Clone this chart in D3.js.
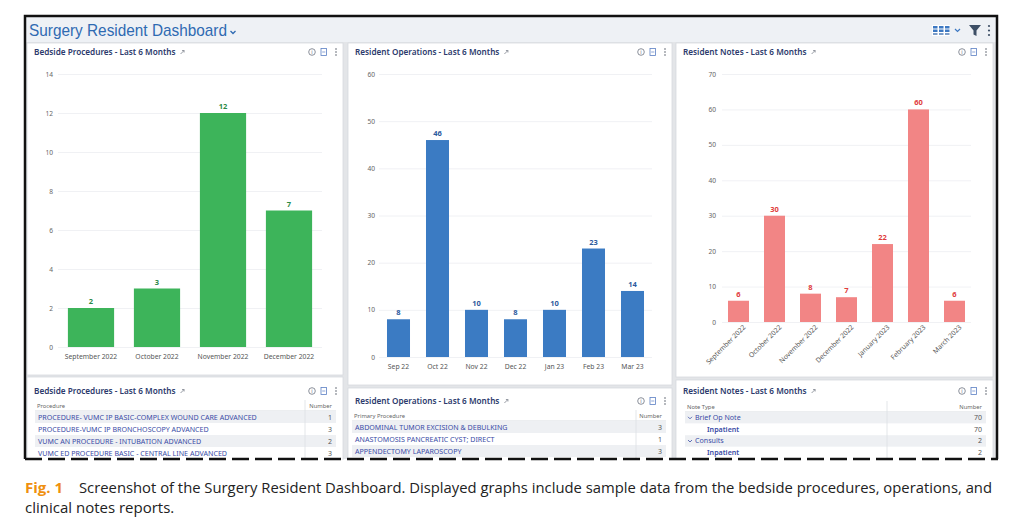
<!DOCTYPE html>
<html>
<head>
<meta charset="utf-8">
<script src="https://cdn.jsdelivr.net/npm/d3@7"></script>
<style>
body { margin: 0; background: #fff; }
svg { display: block; font-family: 'Noto Sans', 'DejaVu Sans', sans-serif; }
</style>
</head>
<body>
<svg id="dash" width="1023" height="523"></svg>
<script>
'use strict';

// chart data
var bedsideMonths = ['September 2022', 'October 2022', 'November 2022', 'December 2022'];
var bedsideCounts = [2, 3, 12, 7];
var bedsideTicks = [0, 2, 4, 6, 8, 10, 12, 14];

var opsMonths = ['Sep 22', 'Oct 22', 'Nov 22', 'Dec 22', 'Jan 23', 'Feb 23', 'Mar 23'];
var opsCounts = [8, 46, 10, 8, 10, 23, 14];
var opsTicks = [0, 10, 20, 30, 40, 50, 60];

var notesMonths = ['September 2022', 'October 2022', 'November 2022', 'December 2022',
  'January 2023', 'February 2023', 'March 2023'];
var notesCounts = [6, 30, 8, 7, 22, 60, 6];
var notesTicks = [0, 10, 20, 30, 40, 50, 60, 70];

// table data
var procedureNames = [
  'PROCEDURE- VUMC IP BASIC-COMPLEX WOUND CARE ADVANCED',
  'PROCEDURE-VUMC IP BRONCHOSCOPY ADVANCED',
  'VUMC AN PROCEDURE - INTUBATION  ADVANCED',
  'VUMC ED PROCEDURE BASIC - CENTRAL LINE ADVANCED'
];
var procedureNumbers = [1, 3, 2, 3];

var operationNames = [
  'ABDOMINAL TUMOR EXCISION & DEBULKING',
  'ANASTOMOSIS PANCREATIC CYST; DIRECT',
  'APPENDECTOMY LAPAROSCOPY'
];
var operationNumbers = [3, 1, 3];

var noteTypes = ['Brief Op Note', 'Inpatient', 'Consults', 'Inpatient'];
var noteLevels = [0, 1, 0, 1];
var noteNumbers = [70, 70, 2, 2];

var captionLabel = 'Fig. 1';
var captionLines = [
  'Screenshot of the Surgery Resident Dashboard. Displayed graphs include sample data from the bedside procedures, operations, and',
  'clinical notes reports.'
];

var svg = d3.select('#dash');
var titleColor = '#2c3a6c';
var linkColor = '#3a4ca6';

// frame background (grey gutters between tiles)
svg.append('rect').attr('x', 25).attr('y', 16).attr('width', 972).attr('height', 443)
  .attr('fill', '#e3e5e8');
svg.append('rect').attr('x', 26).attr('y', 17).attr('width', 970).attr('height', 25)
  .attr('fill', '#eef1f5');

svg.append('text').attr('x', 29).attr('y', 36)
  .attr('font-size', 17).attr('fill', '#2e6ab2')
  .attr('font-family', 'Liberation Sans, Arial, sans-serif')
  .attr('textLength', 198).attr('lengthAdjust', 'spacingAndGlyphs')
  .text('Surgery Resident Dashboard');
svg.append('path').attr('d', 'M230.5,31 l2.5,2.5 l2.5,-2.5')
  .attr('fill', 'none').attr('stroke', '#2e6ab2').attr('stroke-width', 1.3);

// header tools on the right
var tools = svg.append('g');
tools.append('rect').attr('x', 932).attr('y', 25).attr('width', 18).attr('height', 11).attr('fill', '#fff');
[0, 1, 2].forEach(function(i) {
  tools.append('rect').attr('x', 933 + i * 6).attr('y', 26).attr('width', 4.5).attr('height', 2.5).attr('fill', '#3c78c2');
  tools.append('rect').attr('x', 933 + i * 6).attr('y', 29.5).attr('width', 4.5).attr('height', 2.5).attr('fill', '#3c78c2');
  tools.append('rect').attr('x', 933 + i * 6).attr('y', 33).attr('width', 4.5).attr('height', 2).attr('fill', '#7a9cc8');
});
tools.append('path').attr('d', 'M955,29 l2.5,2.5 l2.5,-2.5')
  .attr('fill', 'none').attr('stroke', '#3c78c2').attr('stroke-width', 1.2);
tools.append('path').attr('d', 'M969,25 h12 l-4.5,5.5 v5.5 l-3,-1.5 v-4 z').attr('fill', '#3d4f66');
[26, 30.5, 35].forEach(function(cy) {
  tools.append('circle').attr('cx', 989).attr('cy', cy).attr('r', 1.1).attr('fill', '#3d4f66');
});

// one white tile with its title and the small icons
function tile(x0, y0, x1, y1, title, titleY) {
  var g = svg.append('g');
  g.append('rect').attr('x', x0).attr('y', y0).attr('width', x1 - x0).attr('height', y1 - y0)
    .attr('fill', '#fff').attr('stroke', '#d6d9de').attr('stroke-width', 0.8);
  var t = g.append('text').attr('x', x0 + 7).attr('y', titleY)
    .attr('font-size', 8.2).attr('font-weight', 600).attr('fill', titleColor)
    .text(title);
  var w = t.node().getComputedTextLength();
  var ax = x0 + 7 + w + 5;
  g.append('path').attr('d', 'M' + ax + ',' + (titleY - 1) + ' l3.5,-3.5 m-2,0 h2 v2')
    .attr('fill', 'none').attr('stroke', '#8a8f99').attr('stroke-width', 0.9);

  // info, export and menu icons
  var ix = x1 - 31;
  var cy = titleY - 3;
  g.append('circle').attr('cx', ix).attr('cy', cy).attr('r', 3.3)
    .attr('fill', 'none').attr('stroke', '#6d7480').attr('stroke-width', 0.8);
  g.append('text').attr('x', ix).attr('y', cy + 2.2).attr('text-anchor', 'middle')
    .attr('font-size', 5.5).attr('fill', '#6d7480').text('i');
  g.append('rect').attr('x', ix + 9).attr('y', cy - 3.5).attr('width', 5.5).attr('height', 7)
    .attr('fill', 'none').attr('stroke', '#5b7fc4').attr('stroke-width', 0.8);
  g.append('line').attr('x1', ix + 10.2).attr('x2', ix + 13.3).attr('y1', cy).attr('y2', cy)
    .attr('stroke', '#5b7fc4').attr('stroke-width', 0.7);
  [-3, 0, 3].forEach(function(d) {
    g.append('circle').attr('cx', ix + 24).attr('cy', cy + d).attr('r', 0.8).attr('fill', '#59606b');
  });
  return g;
}

// vertical bar chart with value labels
function barChart(c) {
  var g = svg.append('g');
  var y = d3.scaleLinear().domain([0, c.ticks[c.ticks.length - 1]]).range([c.yBottom, c.yTop]);
  var x = d3.scaleBand().domain(c.categories).range([c.x0, c.x1])
    .paddingInner(c.padInner).paddingOuter(c.padOuter);

  g.selectAll('line.grid').data(c.ticks).enter().append('line')
    .attr('class', 'grid')
    .attr('x1', c.x0).attr('x2', c.x1)
    .attr('y1', function(d) { return y(d) + 0.5; })
    .attr('y2', function(d) { return y(d) + 0.5; })
    .attr('stroke', '#eceef1').attr('stroke-width', 0.8);

  var ya = g.append('g').attr('transform', 'translate(' + c.x0 + ',0)')
    .call(d3.axisLeft(y).tickValues(c.ticks).tickSize(0).tickPadding(c.tickPad));
  ya.select('.domain').remove();
  ya.selectAll('text').attr('font-size', 6.6).attr('fill', '#666')
    .attr('font-family', 'Noto Sans, sans-serif');

  var xa = g.append('g').attr('transform', 'translate(0,' + c.yBottom + ')')
    .call(d3.axisBottom(x).tickSize(0).tickPadding(c.labelPad));
  xa.select('.domain').remove();
  xa.selectAll('text').attr('font-size', 6.8).attr('fill', '#555')
    .attr('font-family', 'Noto Sans, sans-serif');
  if (c.rotate) {
    xa.selectAll('text')
      .attr('text-anchor', 'end')
      .attr('dx', '0.2em').attr('dy', '0.5em')
      .attr('transform', 'rotate(-45)');
  }

  g.selectAll('rect.bar').data(c.values).enter().append('rect')
    .attr('class', 'bar')
    .attr('x', function(d, i) { return x(c.categories[i]); })
    .attr('y', function(d) { return y(d); })
    .attr('width', x.bandwidth())
    .attr('height', function(d) { return c.yBottom - y(d); })
    .attr('fill', c.barColor);

  g.selectAll('text.val').data(c.values).enter().append('text')
    .attr('class', 'val')
    .attr('x', function(d, i) { return x(c.categories[i]) + x.bandwidth() / 2; })
    .attr('y', function(d) { return y(d) - 4; })
    .attr('text-anchor', 'middle')
    .attr('font-size', 7.5).attr('font-weight', 700)
    .attr('fill', c.labelColor)
    .text(function(d) { return d; });
}

// simple striped table
function table(c) {
  var g = svg.append('g');
  g.append('text').attr('x', c.x0 + 2).attr('y', c.headY)
    .attr('font-size', 5.8).attr('fill', '#666').text(c.head);
  g.append('text').attr('x', c.x1 - 4).attr('y', c.headY).attr('text-anchor', 'end')
    .attr('font-size', 5.8).attr('fill', '#666').text('Number');
  var top = c.headY + 3;
  g.append('line').attr('x1', c.x0).attr('x2', c.x1).attr('y1', top).attr('y2', top)
    .attr('stroke', '#cfd3d8').attr('stroke-width', 0.8);

  var rows = g.selectAll('g.row').data(c.names).enter().append('g').attr('class', 'row')
    .attr('transform', function(d, i) { return 'translate(0,' + (top + i * c.rowH) + ')'; });
  rows.append('rect').attr('x', c.x0).attr('y', 0).attr('width', c.x1 - c.x0).attr('height', c.rowH)
    .attr('fill', function(d, i) { return i % 2 === 0 ? '#eef0f3' : '#fff'; });
  rows.append('text')
    .attr('x', function(d, i) { return c.x0 + 3 + (c.levels ? c.levels[i] * 12 + 7 : 0); })
    .attr('y', c.rowH / 2 + 2.5)
    .attr('font-size', 7.1)
    .attr('font-weight', function(d, i) { return c.levels && c.levels[i] === 1 ? 600 : 400; })
    .attr('fill', linkColor)
    .text(function(d) { return d; });
  if (c.levels) {
    rows.filter(function(d, i) { return c.levels[i] === 0; }).append('path')
      .attr('d', 'M' + (c.x0 + 3) + ',' + (c.rowH / 2 - 1) + ' l2,2 l2,-2')
      .attr('fill', 'none').attr('stroke', linkColor).attr('stroke-width', 0.8);
  }
  rows.append('text').attr('x', c.x1 - 4).attr('y', c.rowH / 2 + 2.5)
    .attr('text-anchor', 'end').attr('font-size', 7).attr('fill', '#555')
    .text(function(d, i) { return c.numbers[i]; });

  g.append('line').attr('x1', c.divX).attr('x2', c.divX)
    .attr('y1', c.headY - 8).attr('y2', 459)
    .attr('stroke', '#dcdfe3').attr('stroke-width', 0.8);
}

// chart tiles
tile(27, 43, 343, 375, 'Bedside Procedures - Last 6 Months', 55);
barChart({
  categories: bedsideMonths, values: bedsideCounts, ticks: bedsideTicks,
  x0: 58, x1: 322, yTop: 74, yBottom: 347, padInner: 0.3, padOuter: 0.15,
  tickPad: 5, labelPad: 7, barColor: '#3db45a', labelColor: '#2b8a46'
});

tile(348, 43, 672, 385, 'Resident Operations - Last 6 Months', 55);
barChart({
  categories: opsMonths, values: opsCounts, ticks: opsTicks,
  x0: 379, x1: 652, yTop: 74, yBottom: 357, padInner: 0.41, padOuter: 0.205,
  tickPad: 4, labelPad: 7, barColor: '#3b7bc3', labelColor: '#2d5b9e'
});

tile(676, 43, 993, 377, 'Resident Notes - Last 6 Months', 55);
barChart({
  categories: notesMonths, values: notesCounts, ticks: notesTicks,
  x0: 722, x1: 971, yTop: 74, yBottom: 322, padInner: 0.417, padOuter: 0.167,
  tickPad: 6, labelPad: 6, rotate: true, barColor: '#f28585', labelColor: '#e03c3c'
});

// table tiles
tile(27, 377, 343, 470, 'Bedside Procedures - Last 6 Months', 394);
table({ x0: 35, x1: 336, divX: 305, headY: 408, rowH: 12, head: 'Procedure',
  names: procedureNames, numbers: procedureNumbers });

tile(348, 388, 672, 470, 'Resident Operations - Last 6 Months', 404);
table({ x0: 352, x1: 666, divX: 636, headY: 418, rowH: 12, head: 'Primary Procedure',
  names: operationNames, numbers: operationNumbers });

tile(676, 380, 993, 470, 'Resident Notes - Last 6 Months', 394);
table({ x0: 685, x1: 986, divX: 887, headY: 409, rowH: 11.6, head: 'Note Type',
  names: noteTypes, levels: noteLevels, numbers: noteNumbers });

// crop out below the dashed cut line
svg.append('rect').attr('x', 0).attr('y', 460).attr('width', 1023).attr('height', 63).attr('fill', '#fff');

// screenshot frame
svg.append('path').attr('d', 'M25,459 V16 H997 V459')
  .attr('fill', 'none').attr('stroke', '#111').attr('stroke-width', 2.5);
svg.append('line').attr('x1', 25).attr('x2', 998).attr('y1', 459).attr('y2', 459)
  .attr('stroke', '#111').attr('stroke-width', 2.5).attr('stroke-dasharray', '17,6');

// caption
var cap = svg.append('g').attr('font-family', 'Open Sans, sans-serif').attr('font-size', 15);
cap.append('text').attr('x', 25).attr('y', 493)
  .attr('font-weight', 700).attr('fill', '#ef900e').text(captionLabel);
cap.append('text').attr('x', 79).attr('y', 493).attr('fill', '#222')
  .attr('textLength', 913).attr('lengthAdjust', 'spacingAndGlyphs')
  .text(captionLines[0]);
cap.append('text').attr('x', 25).attr('y', 513).attr('fill', '#222')
  .text(captionLines[1]);
</script>
</body>
</html>
